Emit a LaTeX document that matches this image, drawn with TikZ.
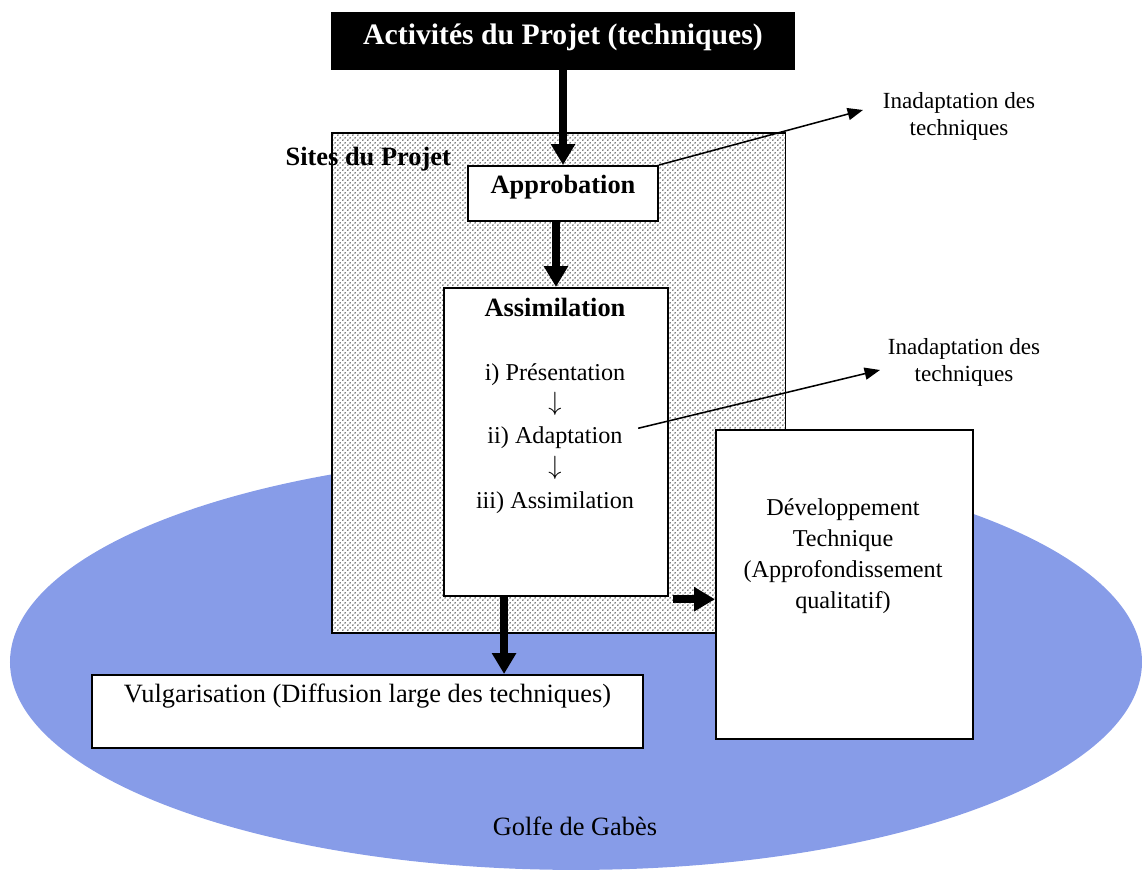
\documentclass[tikz,border=0pt]{standalone}
\usepackage{fontspec}
\setmainfont{Liberation Serif}
\usetikzlibrary{arrows.meta,patterns.meta,shapes.geometric}

\tikzdeclarepattern{
  name=sitedots,
  type=uncolored,
  bottom left={(-.5pt,-.5pt)},
  top right={(1.8pt,1.8pt)},
  tile size={(2.3pt,2.3pt)},
  code={
    \fill (0pt,0pt) circle [radius=.38pt];
    \fill (1.15pt,1.15pt) circle [radius=.38pt];
  }
}
\definecolor{golfe}{RGB}{135,156,232}

\begin{document}
\begin{tikzpicture}[x=0.4545pt,y=-0.4545pt]
\tikzstyle{box}=[draw,line width=0.9pt,fill=white,inner sep=0pt,anchor=north west];
\tikzstyle{txt}=[inner sep=1pt];
\tikzstyle{f12}=[font=\fontsize{12}{14}\selectfont];
\tikzstyle{f11}=[font=\fontsize{11}{14.1}\selectfont];
\tikzstyle{b12}=[font=\bfseries\fontsize{12}{14}\selectfont];
\tikzstyle{big}=[-{Triangle[length=9.5pt,width=10.5pt]},line width=3.6pt];
\tikzstyle{thin}=[-{Triangle[length=7pt,width=5.5pt]},line width=0.7pt];
\useasboundingbox (0,0) rectangle (1142,872);

% golfe de Gabes
\node [ellipse,fill=golfe,inner sep=0pt,minimum width=514.5pt,minimum height=189pt] (golfe) at (576,662) {};
\node [txt,f12,anchor=base] (gabes) at (575,835) {Golfe de Gabès};

% sites du projet
\node [box,line width=0.7pt,preaction={fill=white},pattern=sitedots,minimum width=206.3pt,minimum height=227.3pt] (sites) at (331,132) {};
\node [txt,b12,anchor=base west] (siteslbl) at (283,166) {Sites du Projet};

\node [box,fill=black,text=white,font=\bfseries\fontsize{13.5}{16}\selectfont,minimum width=210pt,text height=14.1pt,text depth=11.4pt] (act) at (331,12) {Activités du Projet (techniques)};
\node [box,b12,minimum width=86.4pt,text height=12.7pt,text depth=12.3pt] (appro) at (467,165) {Approbation};

\node [box,minimum width=101.8pt,minimum height=140pt] (assim) at (443,287) {};
\node [txt,b12,anchor=base] (assimtit) at (555,317) {Assimilation};
\node [txt,f11,anchor=base] (pres) at (555,381) {i) Présentation};
\node [txt,font=\fontsize{13}{14}\selectfont] (fl1) at (555,404) {$\downarrow$};
\node [txt,f11,anchor=base] (adapt) at (555,444) {ii) Adaptation};
\node [txt,font=\fontsize{13}{14}\selectfont] (fl2) at (555,468) {$\downarrow$};
\node [txt,f11,anchor=base] (assimfin) at (555,509) {iii) Assimilation};

\node [box,minimum width=116.8pt,minimum height=140.4pt] (dev) at (715,429) {};
\node [txt,f11,align=center] (devtxt) at (843,556) {Développement\\Technique\\(Approfondissement\\qualitatif)};

\node [box,f12,minimum width=250.4pt,text height=12.7pt,text depth=20.5pt] (vulg) at (91,674) {Vulgarisation (Diffusion large des techniques)};

\node [txt,align=center,font=\fontsize{10.5}{12.3}\selectfont] (inad1) at (959,116) {Inadaptation des\\techniques};
\node [txt,align=center,font=\fontsize{10.5}{12.3}\selectfont] (inad2) at (964,362) {Inadaptation des\\techniques};

% fleches
\coordinate (tip1) at (863,110);
\coordinate (tip2) at (880,370);
\coordinate (vulgin) at ([xshift=-23.6pt]assim.south);
\coordinate (devin) at ([xshift=2pt,yshift=-1pt]assim.south east);
\draw [big] (act) -- (appro);
\draw [big] (appro.south -| assim.north) -- (assim.north);
\draw [big] (vulgin) -- (vulgin |- vulg.north);
\draw [big] (devin) -- (devin -| dev.west);
\draw [thin] (appro.north east) -- (tip1);
\draw [thin] ([xshift=5.9pt,yshift=4.5pt]adapt.east) -- (tip2);
\end{tikzpicture}
\end{document}
